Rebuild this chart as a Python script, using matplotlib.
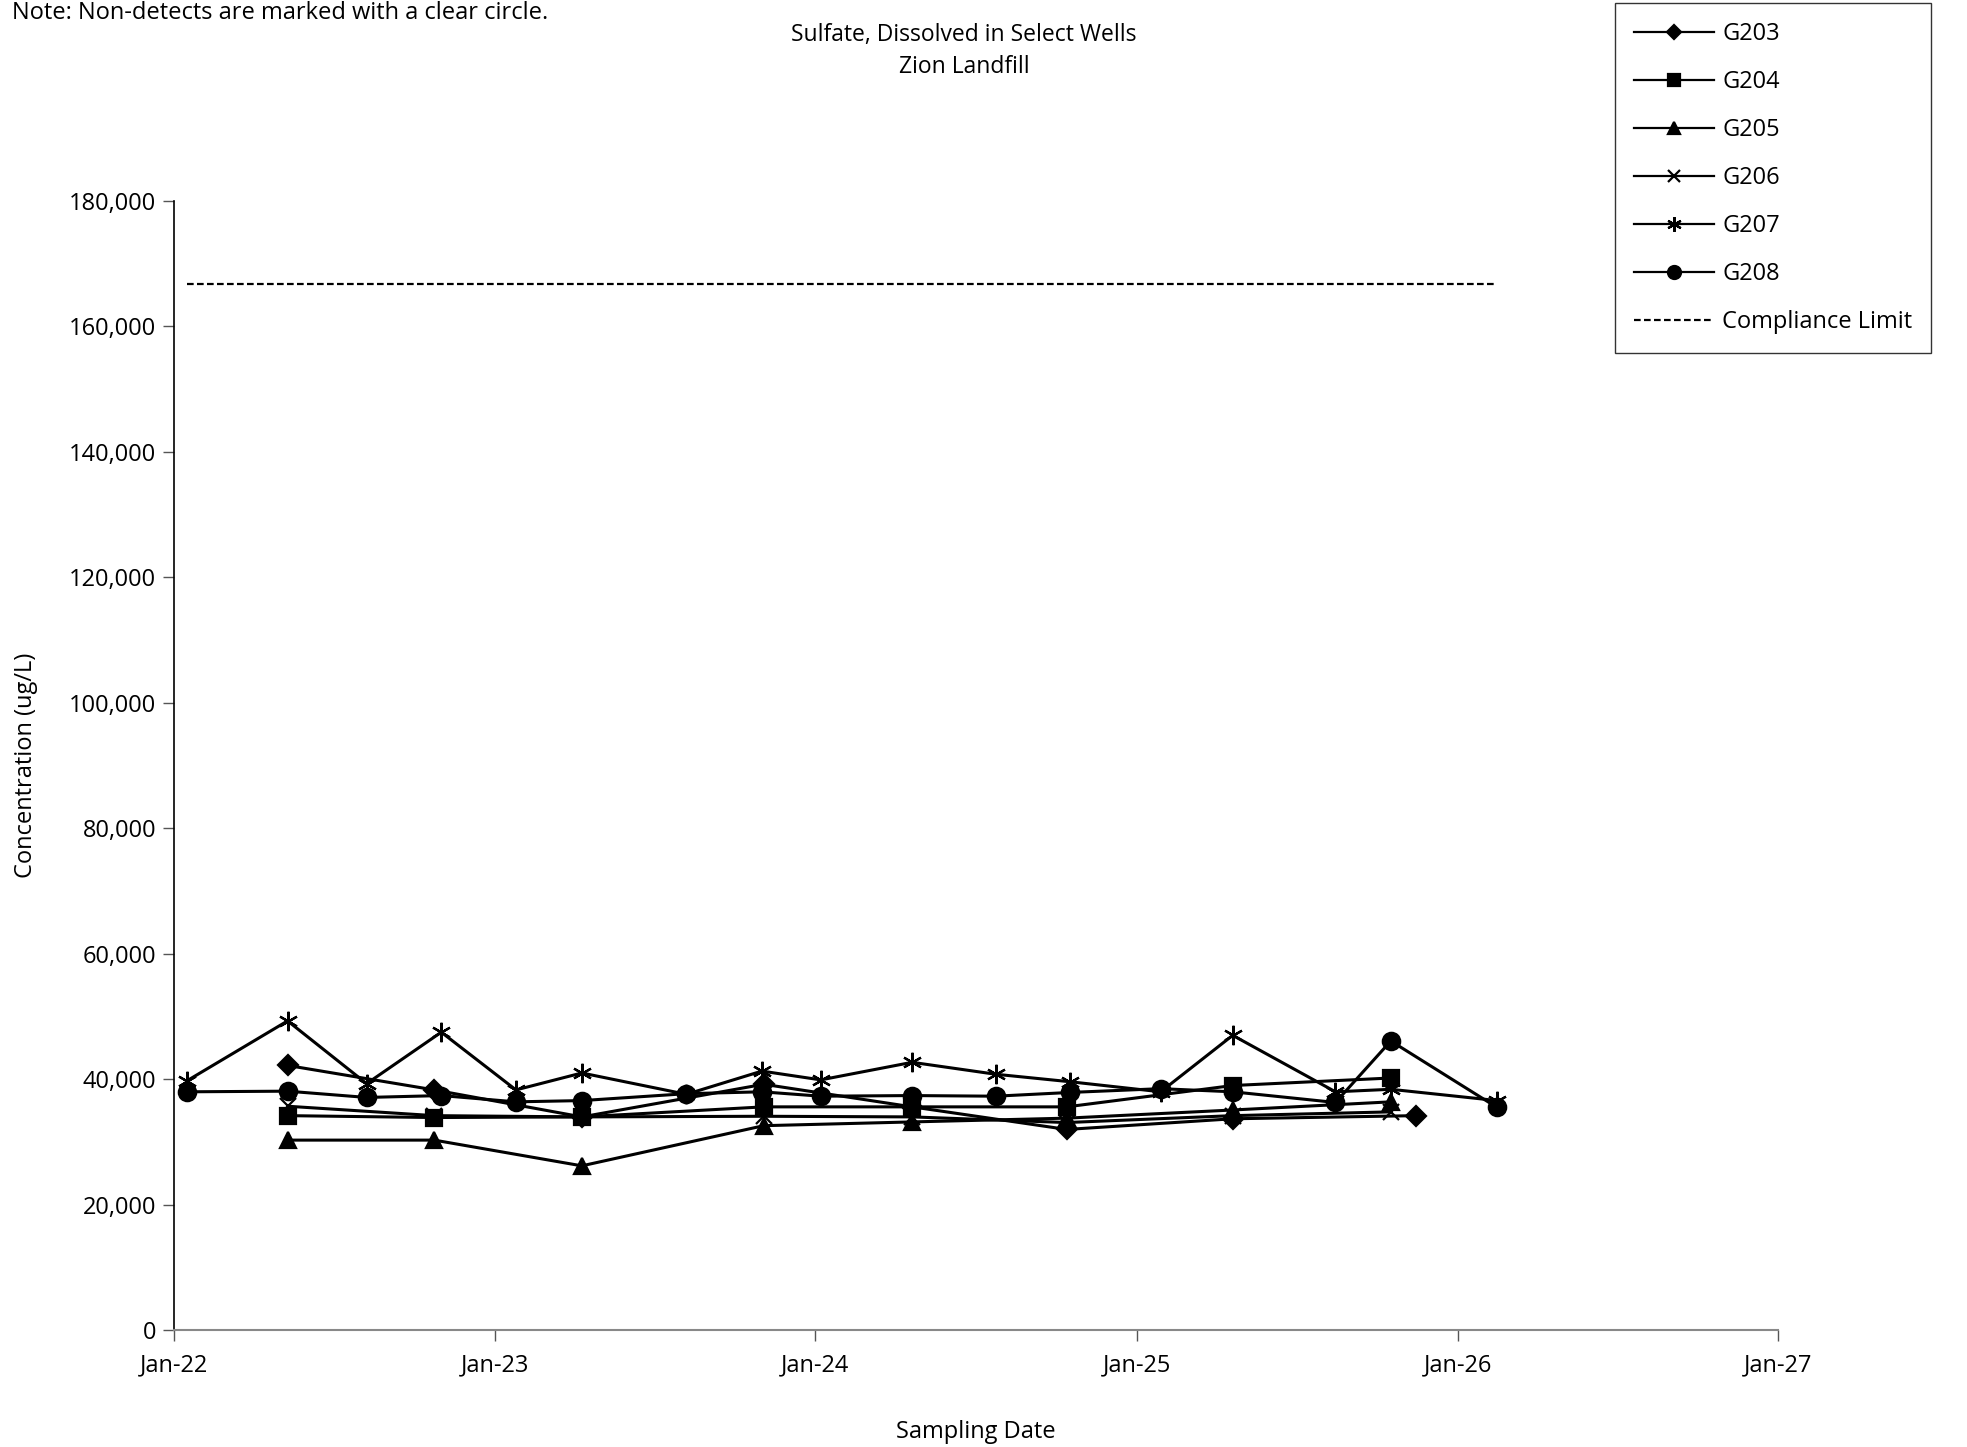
import numpy as np
import pandas as pd
import matplotlib
matplotlib.use("Agg")
import matplotlib.pyplot as plt
import matplotlib.dates as mdates
from matplotlib.ticker import FuncFormatter

plt.rcParams['font.family'] = ['Open Sans', 'DejaVu Sans']

# semi-annual wells
semi_dates_203 = ["2022-05-10", "2022-10-24", "2023-04-10", "2023-11-03",
                  "2024-04-20", "2024-10-13", "2025-04-20", "2025-11-15"]
semi_dates = ["2022-05-10", "2022-10-24", "2023-04-10", "2023-11-03",
              "2024-04-20", "2024-10-13", "2025-04-20", "2025-10-17"]
g203 = [42200, 38300, 34000, 39200, 35600, 32000, 33700, 34200]
g204 = [34200, 33900, 34000, 35600, 35600, 35600, 39000, 40200]
g205 = [30300, 30300, 26200, 32600, 33200, 33800, 35100, 36400]
g206 = [35700, 34200, 34000, 34100, 34000, 33100, 34200, 34800]

# quarterly wells
quart_dates = ["2022-01-16", "2022-05-10", "2022-08-08", "2022-11-01",
               "2023-01-25", "2023-04-10", "2023-08-07", "2023-11-01",
               "2024-01-07", "2024-04-20", "2024-07-24", "2024-10-17",
               "2025-01-28", "2025-04-20", "2025-08-15", "2025-10-17",
               "2026-02-15"]
g207 = [39800, 49300, 39300, 47500, 38300, 41000, 37600, 41300, 39900,
        42700, 40800, 39600, 38000, 47000, 38000, 38400, 36600]
g208 = [38000, 38100, 37100, 37400, 36400, 36600, 37700, 38000, 37300,
        37400, 37300, 37900, 38500, 38000, 36300, 46100, 35500]

limit_dates = ["2022-01-16", "2026-02-15"]
limit_value = 166800

series = [
    ("G203", semi_dates_203, g203, "D", 10),
    ("G204", semi_dates, g204, "s", 11),
    ("G205", semi_dates, g205, "^", 11),
    ("G206", semi_dates, g206, "x", 11),
    ("G207", quart_dates, g207, (6, 2, 0), 14),
    ("G208", quart_dates, g208, "o", 12.5),
]

fig = plt.figure(figsize=(19.67, 14.47), dpi=100)
ax = fig.add_axes([0.0886, 0.0807, 0.8154, 0.7805])

handles = []
for name, d, v, mk, ms in series:
    h, = ax.plot(pd.to_datetime(d), v, color="black", lw=2.2, marker=mk,
                 markersize=ms, markeredgewidth=1.6, label=name)
    handles.append(h)
h, = ax.plot(pd.to_datetime(limit_dates), [limit_value] * 2, color="black",
             lw=1.6, ls=(0, (3, 1.5)), label="Compliance Limit")
handles.append(h)

ax.set_xlim(pd.Timestamp("2022-01-01"), pd.Timestamp("2027-01-01"))
ax.set_ylim(0, 180000)
ax.set_yticks(np.arange(0, 180001, 20000))
ax.yaxis.set_major_formatter(FuncFormatter(lambda y, p: f"{int(y):,}"))
ax.set_xticks(pd.to_datetime(["2022-01-01", "2023-01-01", "2024-01-01",
                              "2025-01-01", "2026-01-01", "2027-01-01"]))
ax.xaxis.set_major_formatter(mdates.DateFormatter("Jan-%y"))

for s in ["top", "right"]:
    ax.spines[s].set_visible(False)
ax.spines["left"].set_color("#000000")
ax.spines["bottom"].set_color("#888888")
ax.spines["left"].set_linewidth(1.2)
ax.spines["bottom"].set_linewidth(1.5)
ax.tick_params(axis="both", labelsize=17, direction="out", length=8,
               width=1, color="#555555")
ax.tick_params(axis="x", pad=9)
ax.tick_params(axis="y", pad=5)

ax.set_xlabel("Sampling Date", fontsize=17, labelpad=30)
ax.set_ylabel("Concentration (ug/L)", fontsize=17, labelpad=22)

fig.text(0.49, 0.965, "Sulfate, Dissolved in Select Wells\nZion Landfill",
         ha="center", va="center", fontsize=16.5, linespacing=1.45)
fig.text(0.006, 0.999, "Note: Non-detects are marked with a clear circle.",
         ha="left", va="top", fontsize=17)

leg = fig.legend(handles=handles, loc="upper left",
                 bbox_to_anchor=(0.821, 0.998), fontsize=17, frameon=True,
                 fancybox=False, edgecolor="black", handlelength=3.4,
                 labelspacing=1.02, borderpad=0.8, handletextpad=0.35,
                 borderaxespad=0)
leg.get_frame().set_linewidth(1.0)
for lh in leg.legend_handles:
    lh.set_linewidth(1.6)
    if lh.get_marker() not in (None, "None", ""):
        lh.set_markersize(lh.get_markersize() * 0.75)

fig.savefig("out.png", dpi=100)
